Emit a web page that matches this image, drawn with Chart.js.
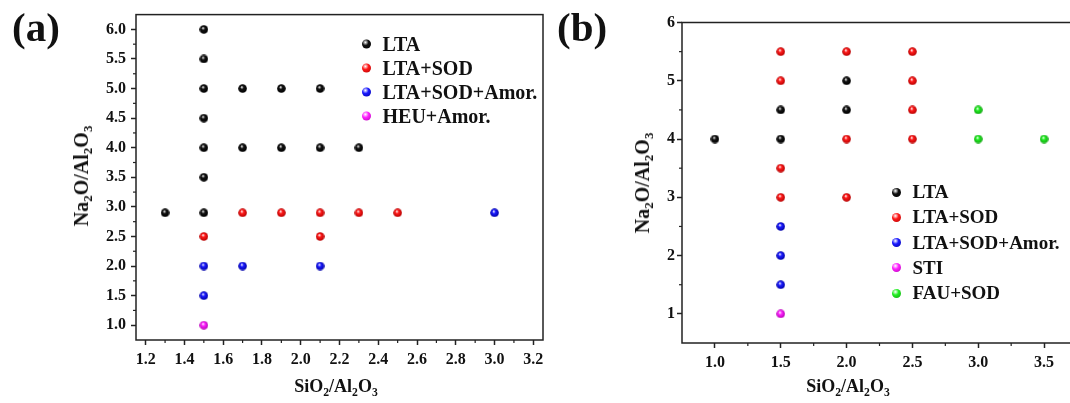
<!DOCTYPE html>
<html>
<head>
<meta charset="utf-8">
<script src="https://cdn.jsdelivr.net/npm/chart.js@4.4.1/dist/chart.umd.min.js"></script>
<style>
  html, body { margin: 0; padding: 0; background: #fff; }
  body {
    width: 1070px; height: 403px; overflow: hidden; position: relative;
    font-family: "Liberation Serif", "Times New Roman", serif; font-weight: bold; color: #111;
  }
  canvas { position: absolute; top: 0; }
  #chartA { left: 0; }
  #chartB { left: 545px; }
  .panel { position: absolute; top: 7px; font-size: 41px; line-height: 1; }
  .axt { position: absolute; font-size: 18px; line-height: 1; white-space: nowrap; transform: translate(-50%, -50%); }
  .axt.rot { font-size: 20px; transform: translate(-50%, -50%) rotate(-90deg); }
  .axt sub { font-size: 0.65em; vertical-align: -0.3em; line-height: 0; }
  .lrow { position: absolute; display: flex; align-items: center; white-space: nowrap; transform: translateY(-50%); }
  .lrow .ball { width: 9px; height: 9px; border-radius: 50%; margin-right: 12px; }
</style>
</head>
<body>
<canvas id="chartA" width="560" height="403"></canvas>
<canvas id="chartB" width="560" height="403"></canvas>

<div class="panel" style="left:12px">(a)</div>
<div class="panel" style="left:557px">(b)</div>

<div class="axt" style="left:336px; top:386px">SiO<sub>2</sub>/Al<sub>2</sub>O<sub>3</sub></div>
<div class="axt rot" style="left:81px; top:176px">Na<sub>2</sub>O/Al<sub>2</sub>O<sub>3</sub></div>
<div class="axt" style="left:848px; top:386px">SiO<sub>2</sub>/Al<sub>2</sub>O<sub>3</sub></div>
<div class="axt rot" style="left:642px; top:183px">Na<sub>2</sub>O/Al<sub>2</sub>O<sub>3</sub></div>

<div id="legendA"></div>
<div id="legendB"></div>

<script>
// ---- panel (a) data: [SiO2/Al2O3, Na2O/Al2O3]
const ltaA = [[1.5, 6.0], [1.5, 5.5], [1.5, 5.0], [1.7, 5.0], [1.9, 5.0], [2.1, 5.0], [1.5, 4.5],
              [1.5, 4.0], [1.7, 4.0], [1.9, 4.0], [2.1, 4.0], [2.3, 4.0], [1.5, 3.5], [1.3, 2.9], [1.5, 2.9]];
const ltaSodA = [[1.7, 2.9], [1.9, 2.9], [2.1, 2.9], [2.3, 2.9], [2.5, 2.9], [1.5, 2.5], [2.1, 2.5]];
const ltaSodAmorA = [[3.0, 2.9], [1.5, 2.0], [1.7, 2.0], [2.1, 2.0], [1.5, 1.5]];
const heuAmorA = [[1.5, 1.0]];

// ---- panel (b) data
const ltaB = [[1.0, 4.0], [1.5, 4.5], [1.5, 4.0], [2.0, 5.0], [2.0, 4.5]];
const ltaSodB = [[1.5, 5.5], [1.5, 5.0], [1.5, 3.5], [1.5, 3.0], [2.0, 5.5], [2.0, 4.0], [2.0, 3.0],
                 [2.5, 5.5], [2.5, 5.0], [2.5, 4.5], [2.5, 4.0]];
const ltaSodAmorB = [[1.5, 2.5], [1.5, 2.0], [1.5, 1.5]];
const stiB = [[1.5, 1.0]];
const fauSodB = [[3.0, 4.5], [3.0, 4.0], [3.5, 4.0]];

// ---- series names
const namesA = ['LTA', 'LTA+SOD', 'LTA+SOD+Amor.', 'HEU+Amor.'];
const namesB = ['LTA', 'LTA+SOD', 'LTA+SOD+Amor.', 'STI', 'FAU+SOD'];

// ---- tick labels
const xTicksA = [1.2, 1.4, 1.6, 1.8, 2.0, 2.2, 2.4, 2.6, 2.8, 3.0, 3.2];
const yTicksA = [1.0, 1.5, 2.0, 2.5, 3.0, 3.5, 4.0, 4.5, 5.0, 5.5, 6.0];
const xTicksB = [1.0, 1.5, 2.0, 2.5, 3.0, 3.5];
const yTicksB = [1, 2, 3, 4, 5, 6];

// colours: [base, dark edge]
const palette = {
    black: ['#111111', '#000000'],
    red: ['#ff1a1a', '#b00000'],
    blue: ['#1a1aff', '#0000a0'],
    magenta: ['#ff22ff', '#b000b0'],
    green: ['#22ee22', '#10a010']
};
const coloursA = ['black', 'red', 'blue', 'magenta'];
const coloursB = ['black', 'red', 'blue', 'magenta', 'green'];

const FONT = '"Liberation Serif", "Times New Roman", serif';
const AXIS = '#222';

// shiny ball marker
function makeBall(name) {
    const c = document.createElement('canvas');
    c.width = 9; c.height = 9;
    const ctx = c.getContext('2d');
    const g = ctx.createRadialGradient(3.6, 3.0, 0.2, 4.5, 4.5, 4.6);
    g.addColorStop(0, '#ffffff');
    g.addColorStop(0.35, palette[name][0]);
    g.addColorStop(1, palette[name][1]);
    ctx.fillStyle = g;
    ctx.beginPath();
    ctx.arc(4.5, 4.5, 4.3, 0, Math.PI * 2);
    ctx.fill();
    return c;
}

function ballCss(name) {
    return 'radial-gradient(circle at 38% 32%, #fff 0, ' + palette[name][0] + ' 38%, ' + palette[name][1] + ' 100%)';
}

// frame around plot area
const framePlugin = {
    id: 'frame',
    afterDraw(chart) {
        const a = chart.chartArea;
        const ctx = chart.ctx;
        ctx.save();
        ctx.strokeStyle = AXIS;
        ctx.lineWidth = 1.5;
        ctx.strokeRect(a.left, a.top, a.right - a.left, a.bottom - a.top);
        ctx.restore();
    }
};

// short minor ticks halfway between the major ones
const minorTickPlugin = {
    id: 'minorTicks',
    afterDraw(chart) {
        const ctx = chart.ctx;
        ctx.save();
        ctx.strokeStyle = AXIS;
        ctx.lineWidth = 1.2;
        ['x', 'y'].forEach(id => {
            const s = chart.scales[id];
            const vals = s.ticks.map(t => t.value);
            if (vals.length < 2) return;
            const half = (vals[1] - vals[0]) / 2;
            const minors = [vals[0] - half];
            vals.forEach(v => minors.push(v + half));
            minors.filter(v => v > s.min && v < s.max).forEach(v => {
                const p = s.getPixelForValue(v);
                ctx.beginPath();
                if (id === 'x') {
                    ctx.moveTo(p, s.top);
                    ctx.lineTo(p, s.top + 3);
                } else {
                    ctx.moveTo(s.right, p);
                    ctx.lineTo(s.right - 3, p);
                }
                ctx.stroke();
            });
        });
        ctx.restore();
    }
};

function toPoints(list) {
    return list.map(p => ({ x: p[0], y: p[1] }));
}

function buildChart(id, series, names, colours, cfg) {
    const datasets = series.map((s, i) => ({
        label: names[i],
        data: toPoints(s),
        pointStyle: makeBall(colours[i]),
        pointRadius: 4.5,
        backgroundColor: palette[colours[i]][0]
    }));
    const tickFont = { family: FONT, size: 16, weight: 'bold' };
    const grid = { display: true, drawOnChartArea: false, drawTicks: true, tickLength: 5, tickWidth: 1.5, tickColor: AXIS };
    return new Chart(document.getElementById(id), {
        type: 'scatter',
        data: { datasets: datasets },
        options: {
            responsive: false,
            animation: false,
            devicePixelRatio: 1,
            layout: { padding: cfg.padding },
            plugins: { legend: { display: false }, tooltip: { enabled: false } },
            scales: {
                x: {
                    type: 'linear',
                    min: cfg.xMin, max: cfg.xMax,
                    afterBuildTicks: s => { s.ticks = cfg.xTicks.map(v => ({ value: v })); },
                    afterFit: s => { s.height = cfg.xHeight; },
                    ticks: { font: tickFont, color: '#111', padding: 5, maxRotation: 0,
                             callback: v => v.toFixed(1) },
                    grid: grid,
                    border: { display: false }
                },
                y: {
                    type: 'linear',
                    min: cfg.yMin, max: cfg.yMax,
                    afterBuildTicks: s => { s.ticks = cfg.yTicks.map(v => ({ value: v })); },
                    afterFit: s => { s.width = cfg.yWidth; },
                    ticks: { font: tickFont, color: '#111', padding: cfg.yPad,
                             callback: v => v.toFixed(cfg.yDigits) },
                    grid: grid,
                    border: { display: false }
                }
            }
        },
        plugins: [framePlugin, minorTickPlugin]
    });
}

function buildLegend(id, names, colours, ballX, rows, size) {
    const box = document.getElementById(id);
    names.forEach((n, i) => {
        const row = document.createElement('div');
        row.className = 'lrow';
        row.style.left = (ballX - 4.5) + 'px';
        row.style.top = rows[i] + 'px';
        row.style.fontSize = size + 'px';
        row.innerHTML = '<span class="ball" style="background:' + ballCss(colours[i]) + '"></span><span>' + n + '</span>';
        box.appendChild(row);
    });
}

buildChart('chartA', [ltaA, ltaSodA, ltaSodAmorA, heuAmorA], namesA, coloursA, {
    padding: { left: 0, top: 14, right: 17, bottom: 0 },
    xMin: 1.15, xMax: 3.25, yMin: 0.75, yMax: 6.25,
    xTicks: xTicksA, yTicks: yTicksA,
    xHeight: 63, yWidth: 136, yPad: 5, yDigits: 1
});

buildChart('chartB', [ltaB, ltaSodB, ltaSodAmorB, stiB, fauSodB], namesB, coloursB, {
    padding: { left: 0, top: 22.5, right: 28, bottom: 0 },
    xMin: 0.75, xMax: 3.75, yMin: 0.5, yMax: 6,
    xTicks: xTicksB, yTicks: yTicksB,
    xHeight: 60, yWidth: 137, yPad: 2, yDigits: 0
});

buildLegend('legendA', namesA, coloursA, 366, [43.5, 67.5, 91.5, 115.5], 20);
buildLegend('legendB', namesB, coloursB, 896, [192, 217, 242.5, 267.5, 293], 19);
</script>
</body>
</html>
